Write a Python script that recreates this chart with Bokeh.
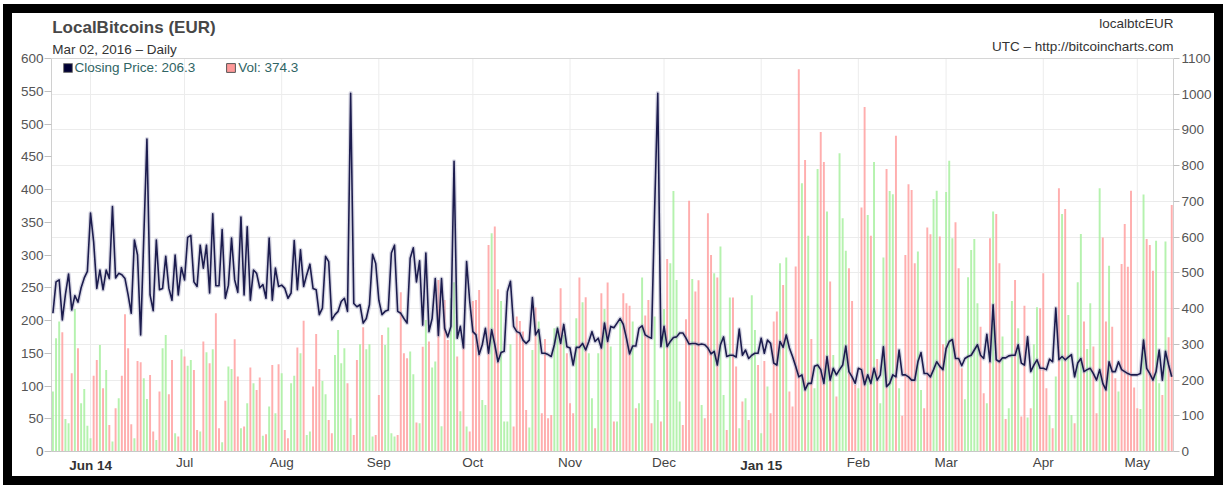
import pandas as pd
from bokeh.plotting import figure
from bokeh.models import (Range1d, LinearAxis, FixedTicker, Label, Legend,
                          LegendItem, ColumnDataSource, Span)
from bokeh.embed import file_html
from bokeh.resources import INLINE

# ---------------- data ----------------
start_date = "2014-05-20"

price = [
    211, 259, 262, 201, 240, 271, 216, 238, 228, 250,
    265, 275, 364, 320, 249, 277, 247, 277, 264, 374,
    265, 272, 270, 264, 239, 211, 323, 300, 178, 327,
    477, 239, 215, 323, 247, 249, 298, 249, 231, 300,
    239, 281, 262, 327, 330, 259, 252, 315, 280, 315,
    242, 363, 253, 253, 339, 234, 254, 326, 262, 243,
    358, 239, 343, 231, 277, 272, 250, 255, 234, 326,
    231, 280, 252, 254, 249, 234, 242, 322, 247, 308,
    252, 270, 286, 249, 247, 209, 219, 298, 290, 201,
    209, 214, 229, 234, 214, 547, 226, 221, 224, 196,
    203, 224, 301, 287, 231, 209, 214, 216, 303, 315,
    214, 211, 203, 196, 295, 311, 259, 291, 193, 303,
    183, 203, 264, 177, 264, 188, 175, 191, 443, 173,
    191, 158, 290, 229, 183, 178, 148, 163, 188, 150,
    186, 163,
    137, 151, 153, 244, 260, 191, 183, 181, 170, 165,
    170, 235, 178, 186, 150, 150, 148, 145, 163, 188,
    165, 194, 160, 158, 132, 159, 159, 165, 155, 168,
    183, 168, 173, 158, 196, 168, 191, 189, 196, 203,
    194, 173, 149, 161, 161, 188, 192, 178, 175, 173,
    370, 547, 160, 191, 160, 168, 174, 175, 181, 181,
    173, 164, 165, 165, 163, 164, 163, 158, 149, 153,
    132,
    163, 175, 145, 147, 147, 144, 187, 147, 155, 142,
    147, 150, 150, 173, 150, 170, 165, 135, 132, 168,
    159, 178, 158, 145, 130, 114, 117, 94, 104, 104,
    130, 132, 125, 104, 145, 109, 127, 117, 125, 132,
    161, 122, 114, 104, 127, 125, 102, 117, 104, 127,
    109, 117, 160, 99, 104, 117, 114, 155, 117, 117,
    114, 109, 109, 137, 151, 119, 119, 114, 125, 137,
    130, 125,
    157, 168, 171, 142, 142, 131, 142, 145, 147, 155,
    163, 147, 142, 179, 137, 224, 140, 137, 143, 143,
    146, 147, 147, 163, 135, 132, 175, 122, 132, 140,
    127, 127, 125, 141, 137, 219, 140, 145, 140, 144,
    148, 114, 135, 142, 122, 125, 127, 119, 109, 125,
    104, 94, 137, 122, 122, 137, 125, 122, 119, 117,
    117, 117, 119, 170, 127, 119, 109, 122, 155, 109,
    153, 132, 114,
]

volume = [
    168, 317, 364, 334, 91, 79, 219, 399, 289, 135,
    175, 72, 37, 212, 256, 298, 177, 228, 74, 28,
    121, 149, 212, 384, 289, 76, 37, 253, 250, 205,
    147, 214, 56, 32, 168, 289, 326, 160, 256, 51,
    42, 286, 266, 240, 256, 228, 60, 56, 308, 278,
    247, 286, 387, 65, 26, 142, 238, 231, 314, 210,
    65, 70, 135, 235, 191, 172, 207, 44, 48, 126,
    242, 107, 244, 219, 60, 37, 191, 212, 291, 275,
    366, 46, 56, 182, 329, 231, 197, 160, 88, 51,
    270, 340, 247, 289, 191, 93, 46, 256, 300, 348,
    286, 300, 42, 46, 158, 326, 298, 347, 51, 42,
    46, 446, 275, 261, 280, 216, 81, 79, 293, 368,
    308, 235, 252, 480, 71, 424, 312, 429, 474, 266,
    113, 308, 70, 56, 421, 424, 452, 144, 130, 578,
    611, 630,
    454, 421, 84, 84, 300, 70, 378, 365, 336, 116,
    67, 284, 403, 364, 107, 315, 93, 102, 345, 350,
    457, 326, 275, 135, 107, 373, 487, 418, 432, 275,
    149, 65, 275, 443, 399, 473, 294, 84, 84, 364,
    443, 415, 408, 364, 121, 135, 487, 381, 424, 79,
    378, 144, 84, 399, 539, 527, 729, 480, 140, 74,
    370, 702, 483, 448, 479, 130, 93, 667, 550, 499,
    487,
    574, 158, 60, 431, 431, 238, 65, 140, 149, 88,
    437, 340, 242, 51, 253, 182, 107, 364, 392, 527,
    466, 543, 168, 126, 518, 1070, 751, 816, 604, 315,
    177, 791, 894, 810, 672, 476, 270, 154, 835, 653,
    562, 513, 421, 186, 177, 683, 964, 662, 604, 810,
    259, 135, 543, 791, 729, 720, 884, 177, 100, 550,
    748, 732, 527, 560, 172, 121, 627, 608, 707, 730,
    602, 300,
    726, 814, 597, 642, 513, 233, 146, 488, 564, 595,
    415, 349, 163, 135, 597, 672, 665, 527, 322, 91,
    121, 421, 480, 345, 98, 408, 95, 121, 300, 404,
    401, 499, 177, 102, 65, 210, 737, 665, 679, 382,
    102, 79, 474, 609, 364, 287, 415, 294, 107, 737,
    599, 364, 520, 349, 205, 168, 525, 637, 517, 730,
    179, 121, 119, 719, 595, 578, 506, 590, 191, 158,
    588, 320, 690,
]

month_ticks = ["2014-06-01", "2014-07-01", "2014-08-01", "2014-09-01",
               "2014-10-01", "2014-11-01", "2014-12-01", "2015-01-01",
               "2015-02-01", "2015-03-01", "2015-04-01", "2015-05-01"]
month_labels = ["Jun 14", "Jul", "Aug", "Sep", "Oct", "Nov", "Dec",
                "Jan 15", "Feb", "Mar", "Apr", "May"]
bold_labels = ["Jun 14", "Jan 15"]
price_ticks = list(range(0, 601, 50))
vol_ticks = list(range(0, 1101, 100))

title_text = "LocalBitcoins (EUR)"
subtitle_text = "Mar 02, 2016 \u2013 Daily"
right_top_text = "localbtcEUR"
right_sub_text = "UTC \u2013 http://bitcoincharts.com"
legend_price = "Closing Price: 206.3"
legend_vol = "Vol: 374.3"

# ---------------- build ----------------
DAY = 86400000.0
FONT = "Liberation Sans"


def ms(s):
    return float(pd.Timestamp(s).value // 10**6)


dates = pd.date_range(start_date, periods=len(price), freq="D")
colors = ["#a8f0a0"]
for i in range(1, len(price)):
    colors.append("#a8f0a0" if price[i] > price[i - 1] else "#ffa0a0")

src = ColumnDataSource(data=dict(date=dates, price=price, vol=volume, color=colors))

x0 = ms(start_date) - 0.45 * DAY
x1 = float(dates[-1].value // 10**6) + 0.56 * DAY

# page geometry (px): canvas top 13, price-axis top (600) at 58, bottom (0) at 451
P_MAX = price_ticks[-1]
V_MAX = vol_ticks[-1]
PX_PER_UNIT = (451.0 - 58.0) / P_MAX
y_top = P_MAX + (58.0 - 13.0) / PX_PER_UNIT          # frame extends up over the header
v_top = V_MAX * y_top / P_MAX

p = figure(width=1202, height=463, x_axis_type="datetime",
           x_range=Range1d(x0, x1), y_range=Range1d(0, y_top),
           output_backend="svg", toolbar_location=None,
           min_border_left=39, min_border_right=41,
           min_border_top=0, min_border_bottom=25)
p.title.visible = False
p.margin = (13, 0, 0, 12)
p.styles = {"outline": "9px solid black"}
p.extra_y_ranges = {"vol": Range1d(0, v_top)}
p.background_fill_color = "white"
p.border_fill_color = "white"
p.outline_line_color = None

tick_ms = [ms(t) for t in month_ticks]

# horizontal grid (volume axis steps), vertical month grid limited to the plot area
p.ygrid.ticker = FixedTicker(ticks=[v * P_MAX / V_MAX for v in vol_ticks])
p.ygrid.grid_line_color = "#ececec"
p.xgrid.visible = False
gsrc = ColumnDataSource(data=dict(t=tick_ms, y0=[price_ticks[0]] * len(tick_ms),
                                  y1=[P_MAX] * len(tick_ms)))
p.segment(x0="t", y0="y0", x1="t", y1="y1", source=gsrc, line_color="#ececec",
          line_width=1, level="underlay")
p.add_layout(Span(location=P_MAX, dimension="width", line_color="#d6d6d6",
                  line_width=1))

# x axis (regular labels)
overrides = {}
for t, lab in zip(tick_ms, month_labels):
    overrides[t] = "" if lab in bold_labels else lab
xa = p.xaxis[0]
xa.ticker = FixedTicker(ticks=tick_ms)
xa.major_label_overrides = overrides
xa.major_tick_out = 0
xa.major_tick_in = 0
xa.minor_tick_out = 0
xa.minor_tick_in = 0
xa.axis_line_color = "#c8c8c8"
xa.major_label_text_font = FONT
xa.major_label_text_font_size = "13.5px"
xa.major_label_text_color = "#444444"
xa.major_label_standoff = 3

# second x axis carrying only the bold year labels, pulled up onto the same row
bold_ticks = [t for t, lab in zip(tick_ms, month_labels) if lab in bold_labels]
xb = LinearAxis(ticker=FixedTicker(ticks=bold_ticks))
xb.major_label_overrides = {t: lab for t, lab in zip(tick_ms, month_labels)
                            if lab in bold_labels}
xb.axis_line_color = None
xb.major_tick_line_color = None
xb.minor_tick_line_color = None
xb.major_tick_out = 0
xb.major_tick_in = 0
xb.minor_tick_out = 0
xb.major_label_text_font = FONT
xb.major_label_text_font_size = "13.5px"
xb.major_label_text_font_style = "bold"
xb.major_label_text_color = "#333333"
xb.major_label_standoff = -15
p.add_layout(xb, "below")

# left axis
ya = p.yaxis[0]
ya.ticker = FixedTicker(ticks=price_ticks)
ya.bounds = (price_ticks[0], P_MAX)
ya.major_tick_out = 7
ya.major_tick_in = 0
ya.minor_tick_out = 0
ya.minor_tick_in = 0
ya.major_tick_line_color = "#c0c0c0"
ya.axis_line_color = "#d0d0d0"
ya.major_label_text_font = FONT
ya.major_label_text_font_size = "13.5px"
ya.major_label_text_color = "#555555"
ya.major_label_standoff = 1

# right axis
ra = LinearAxis(y_range_name="vol", ticker=FixedTicker(ticks=vol_ticks))
ra.bounds = (vol_ticks[0], V_MAX)
ra.major_tick_out = 6
ra.major_tick_in = 0
ra.minor_tick_out = 0
ra.minor_tick_in = 0
ra.major_tick_line_color = "#c0c0c0"
ra.axis_line_color = "#d0d0d0"
ra.major_label_text_font = FONT
ra.major_label_text_font_size = "13.5px"
ra.major_label_text_color = "#555555"
ra.major_label_standoff = 2
p.add_layout(ra, "right")

# bars (volume)
p.vbar(x="date", top="vol", width=0.62 * DAY, source=src, y_range_name="vol",
       fill_color="color", line_color=None, fill_alpha=0.85)

# price line with soft halo
p.line(x="date", y="price", source=src, line_width=4.2, line_color="#9a9ab8",
       line_alpha=0.4, line_join="round")
p.line(x="date", y="price", source=src, line_width=1.6, line_color="#1c1c4e",
       line_join="round")


# header texts (inside the frame, above the price-axis top)
def ydata(px):
    return (451.0 - px) / PX_PER_UNIT


xs_left = x0 + (51.7 - 51.0) / 1122.0 * (x1 - x0)
p.add_layout(Label(x=xs_left, y=ydata(27.3), text=title_text, text_font=FONT,
                   text_font_size="17px", text_font_style="bold",
                   text_color="#474747", text_baseline="alphabetic"))
p.add_layout(Label(x=xs_left, y=ydata(49.0), text=subtitle_text, text_font=FONT,
                   text_font_size="13.5px", text_color="#333333",
                   text_baseline="alphabetic"))
p.add_layout(Label(x=x1, y=ydata(22.6), text=right_top_text, text_font=FONT,
                   text_font_size="13.5px", text_color="#333333",
                   text_align="right", text_baseline="alphabetic"))
p.add_layout(Label(x=x1, y=ydata(45.8), text=right_sub_text, text_font=FONT,
                   text_font_size="13.5px", text_color="#333333",
                   text_align="right", text_baseline="alphabetic"))

# legend (proxy renderers whose only value is NaN, so nothing is drawn in the plot)
nan = float("nan")
r_p = p.vbar(x=[dates[0]], top=[nan], width=DAY, fill_color="#000033",
             line_color="#777777")
r_v = p.vbar(x=[dates[0]], top=[nan], width=DAY, fill_color="#ff9999",
             line_color="#555555")
leg = Legend(items=[LegendItem(label=legend_price, renderers=[r_p]),
                    LegendItem(label=legend_vol, renderers=[r_v])],
             orientation="horizontal", location=(10.5, 376),
             glyph_width=11, glyph_height=11, label_standoff=2, spacing=30,
             padding=0, margin=0, border_line_alpha=0, background_fill_alpha=0,
             label_text_font=FONT, label_text_font_size="13.5px",
             label_text_color="#2f6464", label_height=11)
p.add_layout(leg)

open("out.html", "w").write(file_html(p, INLINE))
